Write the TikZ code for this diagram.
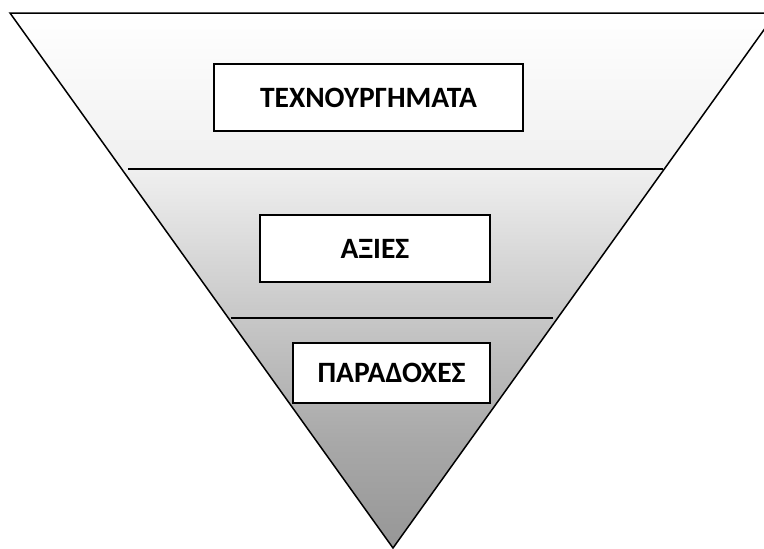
\documentclass[tikz,border=0pt]{standalone}
\usepackage{fontspec}
\setmainfont{Carlito}[BoldFont={Carlito Bold}]
\usetikzlibrary{positioning}
\pgfdeclareverticalshading{funnelshade}{100bp}{%
  color(0bp)=(white!59!black); color(25bp)=(white!59!black);
  color(35bp)=(white!66!black); color(46.5bp)=(white!78!black);
  color(60.5bp)=(white!94!black); color(75bp)=(white); color(100bp)=(white)}
\newcommand{\levelfont}{\bfseries\fontsize{29.5}{31}\selectfont}

\begin{document}
\begin{tikzpicture}[
    x=1pt, y=-1pt,
    funnel/.style={draw=black, line width=1.5pt, shading=funnelshade},
    divider/.style={draw=black, line width=1.4pt},
    level/.style={rectangle, draw=black, fill=white, line width=1.4pt,
      inner sep=0pt, font=\levelfont}
  ]
    \clip (0,0) rectangle (764,549);

    % funnel outline
    \coordinate (tl) at (10,13);
    \coordinate (tr) at (776,13);
    \coordinate (apex) at (393,548);
    \path[funnel] (tl) -- (tr) -- (apex) -- cycle;

    % dividing lines
    \coordinate (d1l) at (128,169);
    \coordinate (d1r) at (663,169);
    \coordinate (d2l) at (231,318);
    \coordinate (d2r) at (553,318);
    \draw[divider] (d1l) -- (d1r);
    \draw[divider] (d2l) -- (d2r);

    % levels
    \node[level, minimum width=309pt, minimum height=67pt] (artifacts) at (368.5,97.5) {ΤΕΧΝΟΥΡΓΗΜΑΤΑ};
    \node[level, minimum width=230pt, minimum height=67pt] (values) at (375,248.5) {ΑΞΙΕΣ};
    \node[level, minimum width=197pt, minimum height=60pt] (assumptions) at (391.5,373) {ΠΑΡΑΔΟΧΕΣ};
  \end{tikzpicture}
\end{document}
